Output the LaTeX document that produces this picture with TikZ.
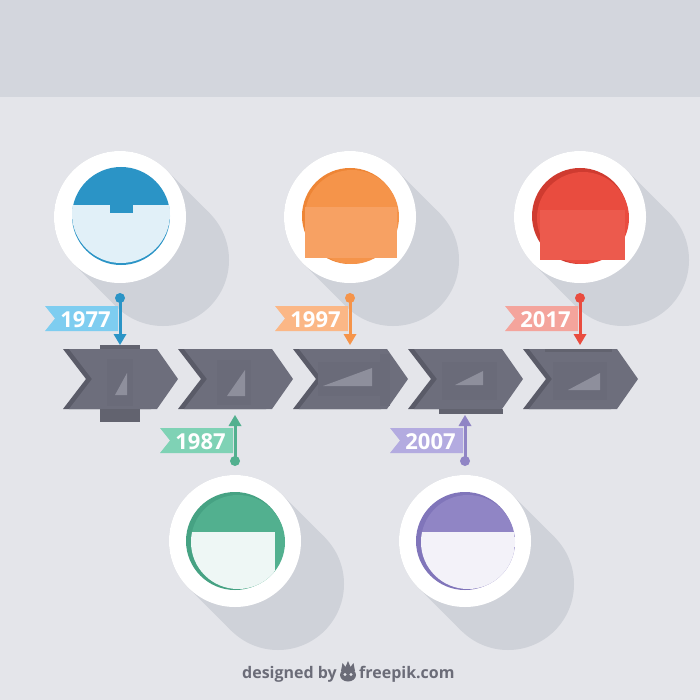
\documentclass[tikz,border=0pt]{standalone}
\usepackage{fontspec}
\setmainfont{Open Sans}
\definecolor{bgc}{HTML}{E4E5EA}
\definecolor{bandc}{HTML}{D3D6DD}
\definecolor{shadc}{HTML}{CFD2D9}
\definecolor{chevD}{HTML}{5A5B68}
\definecolor{chevB}{HTML}{62636F}
\definecolor{chevM}{HTML}{6D6E7C}
\definecolor{chevI}{HTML}{6A6B79}
\definecolor{chevT}{HTML}{8E8F9C}
\definecolor{footc}{HTML}{6B6C78}
\definecolor{blueD}{HTML}{2B94C6}
\definecolor{blueL}{HTML}{E1F0F8}
\definecolor{blueB}{HTML}{7ECDF0}
\definecolor{oraR}{HTML}{EE8535}
\definecolor{oraM}{HTML}{F5944A}
\definecolor{oraL}{HTML}{F7A163}
\definecolor{oraB}{HTML}{FBB786}
\definecolor{redR}{HTML}{CF3B30}
\definecolor{redM}{HTML}{E94C3F}
\definecolor{redL}{HTML}{EC5A4D}
\definecolor{redB}{HTML}{F4A49C}
\definecolor{grnR}{HTML}{46A283}
\definecolor{grnM}{HTML}{52B08F}
\definecolor{grnL}{HTML}{EEF7F5}
\definecolor{grnB}{HTML}{7FD2B5}
\definecolor{purR}{HTML}{8075BA}
\definecolor{purM}{HTML}{9085C5}
\definecolor{purL}{HTML}{F3F2F9}
\definecolor{purB}{HTML}{B3ABE0}
\tikzset{
  yearlbl/.style={text=white, inner sep=0pt, font=\bfseries\fontsize{22}{22}\selectfont},
  footlbl/.style={text=footc, inner sep=0pt, font=\bfseries\fontsize{16}{16}\selectfont},
  pinline/.style={line width=3pt},
}
\newcommand{\mkshadow}[2]{%
  \begin{scope}[shift={(#1,#2)}]
    \fill[shadc] (0,0) circle[radius=66pt];
    \fill[shadc] (43,43) circle[radius=66pt];
    \fill[shadc] (46.67,-46.67) -- (89.67,-3.67) -- (-3.67,89.67) -- (-46.67,46.67) -- cycle;
  \end{scope}}
\newcommand{\mkchev}[1]{%
  \begin{scope}[shift={(#1,0)}]
    \fill[chevD] (0,349) -- (88,349) -- (109,379) -- (88,409) -- (0,409) -- (23,379) -- cycle;
    \fill[chevM] (6,349) -- (94,349) -- (115,379) -- (94,409) -- (6,409) -- (29,379) -- cycle;
  \end{scope}}
\newcommand{\mkbanner}[5]{% x0, x1, y0, colour, text
  \fill[#4] (#1,#3) -- (#2,#3) -- (#2,#3+25) -- (#1,#3+25) -- (#1+10,#3+12.5) -- cycle;
  \node[yearlbl] at ({(#1+#2)/2+4},#3+13.5) {#5};}
\begin{document}
\begin{tikzpicture}[x=1pt,y=-1pt]
\useasboundingbox (0,0) rectangle (700,700);
\fill[bgc] (0,0) rectangle (700,700);
\fill[bandc] (0,0) rectangle (700,97);
% shadows
\mkshadow{120}{217}
\mkshadow{350}{217}
\mkshadow{580}{217}
\mkshadow{235}{541}
\mkshadow{465}{541}
% chevrons
\mkchev{63}
\mkchev{178}
\mkchev{293}
\mkchev{408}
\mkchev{523}
% chevron inner details
\fill[chevB] (100,345) rectangle (140,349);
\fill[chevB] (100,409) rectangle (140,422);
\fill[chevI] (107,359) rectangle (133,406);
\fill[chevI] (217,360) rectangle (251,405);
\fill[chevI] (318,362) rectangle (380,396);
\fill[chevI] (380,354) rectangle (390,406);
\fill[chevI] (442,362) rectangle (497,400);
\fill[chevB] (439,409) rectangle (503,414);
\fill[chevB] (545,349) rectangle (612,352);
\fill[chevI] (553,362) rectangle (607,400);
\fill[chevT] (115,395) -- (127,395) -- (127,373) -- cycle;
\fill[chevT] (227,396) -- (245,396) -- (245,370) -- cycle;
\fill[chevT] (323,386) -- (372,386) -- (372,368) -- cycle;
\fill[chevT] (455,385) -- (483,385) -- (483,371) -- cycle;
\fill[chevT] (568,390) -- (600,390) -- (600,373) -- cycle;
% circle 1977 (blue)
\begin{scope}[shift={(120,217)}]
  \fill[white] (0,0) circle[radius=66pt];
  \fill[blueD] (1,-1) circle[radius=49pt];
  \begin{scope}
    \clip (1,-3) circle[radius=49pt];
    \fill[blueL] (-48,-12) rectangle (50,48);
  \end{scope}
  \fill[blueD] (-10,-12) rectangle (13,-4);
\end{scope}
% circle 1997 (orange)
\begin{scope}[shift={(350,217)}]
  \fill[white] (0,0) circle[radius=66pt];
  \fill[oraR] (0,-1) circle[radius=48pt];
  \fill[oraM] (2,0) circle[radius=47pt];
  \fill[oraL] (-45,-10) rectangle (47,41);
\end{scope}
% circle 2017 (red)
\begin{scope}[shift={(580,217)}]
  \fill[white] (0,0) circle[radius=66pt];
  \fill[redR] (0,-1) circle[radius=48pt];
  \fill[redM] (3,1) circle[radius=46pt];
  \fill[redL] (-40,-7) rectangle (45,43);
\end{scope}
% circle 1987 (green)
\begin{scope}[shift={(235,541)}]
  \fill[white] (0,0) circle[radius=66pt];
  \fill[grnR] (0,0) circle[radius=49pt];
  \fill[grnM] (3,1) circle[radius=47pt];
  \begin{scope}
    \clip (3,1) circle[radius=47pt];
    \fill[grnL] (-46,-9) rectangle (40,51);
  \end{scope}
\end{scope}
% circle 2007 (purple)
\begin{scope}[shift={(465,541)}]
  \fill[white] (0,0) circle[radius=66pt];
  \fill[purR] (0,0) circle[radius=49pt];
  \fill[purM] (3,1) circle[radius=47pt];
  \begin{scope}
    \clip (3,1) circle[radius=47pt];
    \fill[purL] (-44,-9) rectangle (50,52);
  \end{scope}
\end{scope}
% banners
\mkbanner{45}{118}{306}{blueB}{1977}
\mkbanner{275}{348}{306}{oraB}{1997}
\mkbanner{505}{578}{306}{redB}{2017}
\mkbanner{160}{233}{428}{grnB}{1987}
\mkbanner{390}{463}{428}{purB}{2007}
% pins
\coordinate (d1) at (120,298); \coordinate (a1) at (120,334);
\coordinate (d3) at (350,298); \coordinate (a3) at (350,334);
\coordinate (d5) at (580,298); \coordinate (a5) at (580,334);
\coordinate (d2) at (235,461); \coordinate (a2) at (235,426);
\coordinate (d4) at (465,461); \coordinate (a4) at (465,426);
\foreach \d/\a/\c/\s in {d1/a1/blueD/1, d3/a3/oraM/1, d5/a5/redM/1, d2/a2/grnM/-1, d4/a4/purM/-1}{
  \fill[\c] (\d) circle[radius=5pt];
  \draw[\c, pinline] (\d) -- (\a);
  \fill[\c] ([xshift=-6.5pt]\a) -- ([xshift=6.5pt]\a) -- ([yshift=-11*\s pt]\a) -- cycle;
}
% footer
\node[footlbl, anchor=base east] (ft1) at (337,678) {designed by};
\node[footlbl, anchor=base west] (ft2) at (359,678) {freepik.com};
\fill[footc] (348,675) ellipse (8pt and 6.5pt);
\fill[footc] (341,671) -- (342.5,663) -- (345.5,667) -- (348,661) -- (350.5,667) -- (353.5,663) -- (355,671) -- cycle;
\fill[bgc] (345,674.5) circle[radius=1.6pt];
\fill[bgc] (351,674.5) circle[radius=1.6pt];
\end{tikzpicture}
\end{document}
